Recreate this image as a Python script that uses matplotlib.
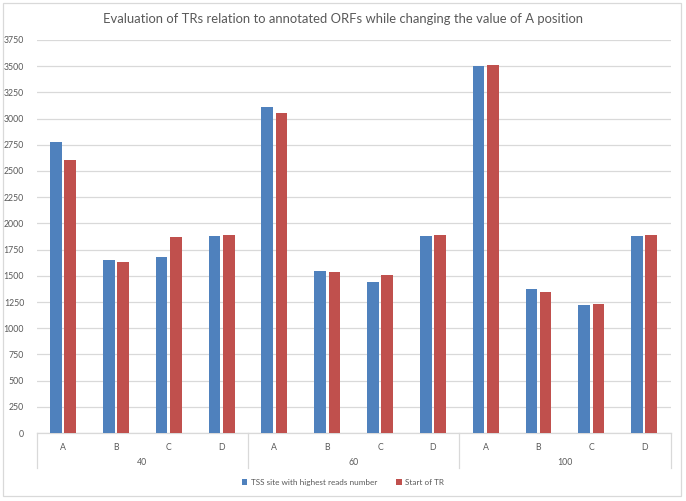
import matplotlib.pyplot as plt
import matplotlib.transforms as mtransforms
import numpy as np

plt.rcParams['font.family'] = ['Lato', 'DejaVu Sans']

groups = ["40", "60", "100"]
letters = ["A", "B", "C", "D"]
tss = [2780, 1648, 1679, 1877, 3113, 1546, 1444, 1877, 3505, 1374, 1218, 1877]
start_tr = [2605, 1629, 1867, 1886, 3056, 1533, 1505, 1886, 3511, 1348, 1231, 1886]

blue = "#4F81BD"
red = "#C0504D"
grey_txt = "#595959"
grid_c = "#D9D9D9"

fig = plt.figure(figsize=(6.86, 5.01), dpi=100)
ax = fig.add_axes([0.0535, 0.1357, 0.924, 0.7845])

x = np.arange(len(tss))
w = 0.22
ax.bar(x - 0.135, tss, w, color=blue, label="TSS site with highest reads number", zorder=3)
ax.bar(x + 0.135, start_tr, w, color=red, label="Start of TR", zorder=3)

ax.set_xlim(-0.5, len(tss) - 0.5)
ax.set_ylim(0, 3750)
ax.set_yticks(np.arange(0, 3751, 250))
ax.yaxis.grid(True, color=grid_c, linewidth=0.9, zorder=0)
ax.tick_params(axis="y", length=0, labelsize=6.3, labelcolor=grey_txt, pad=9)
ax.set_xticks(x)
ax.set_xticklabels(letters * len(groups))
ax.tick_params(axis="x", length=0, labelsize=6.3, labelcolor=grey_txt, pad=7)

for s in ["top", "right", "left"]:
    ax.spines[s].set_visible(False)
ax.spines["bottom"].set_color(grid_c)
ax.spines["bottom"].set_linewidth(0.9)

# multi-level category axis
trans = mtransforms.blended_transform_factory(ax.transData, ax.transAxes)
for b in [-0.5, 3.5, 7.5, 11.5]:
    ax.plot([b, b], [0, -0.089], transform=trans, color=grid_c, linewidth=0.9, clip_on=False)
for i, g in enumerate(groups):
    ax.text(i * 4 + 1.5, -0.075, g, transform=trans, ha="center", va="center",
            fontsize=6.3, color=grey_txt)

fig.text(0.5, 0.962, "Evaluation of TRs relation to annotated ORFs while changing the value of A position",
         ha="center", va="center", fontsize=9.4, color=grey_txt)

fig.legend(loc="center", bbox_to_anchor=(0.5, 0.037), ncol=2, frameon=False,
           fontsize=5.9, labelcolor=grey_txt, handlelength=0.7, handleheight=0.7,
           handletextpad=0.4, columnspacing=2.4)

# chart border
fig.patches.append(plt.Rectangle((3 / 686, 5 / 501), 678 / 686, 493 / 501, transform=fig.transFigure,
                                 fill=False, edgecolor=grid_c, linewidth=0.9))

fig.savefig("out.png", dpi=100)
